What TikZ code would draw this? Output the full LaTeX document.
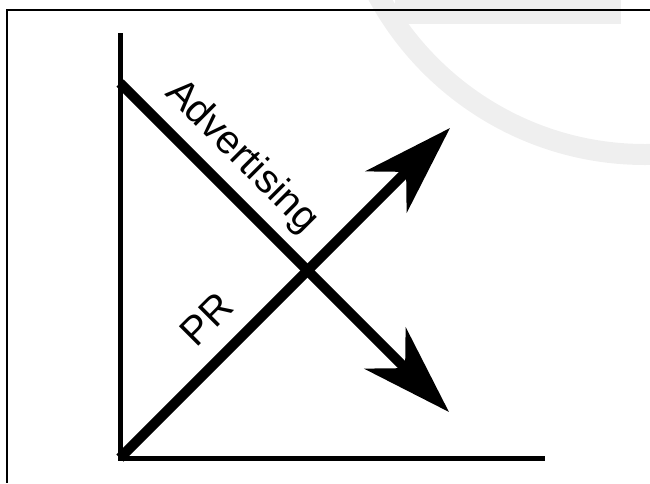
\documentclass[tikz,border=0pt]{standalone}
\usepackage{fontspec}
\setmainfont{Liberation Sans}
\usetikzlibrary{arrows.meta}
\definecolor{ringgray}{HTML}{EFEFEF}
\begin{document}
\begin{tikzpicture}[x=1pt,y=-1pt,
  frame/.style={line width=2.5pt},
  axis/.style={line width=5pt, line join=miter},
  trend/.style={line width=10pt, -{Stealth[length=90pt,width=58pt,inset=28pt]}},
  lbl/.style={font=\fontsize{40}{48}\selectfont, inner sep=0pt}]
\useasboundingbox (0,0) rectangle (650,483);
\begin{scope}
  \clip (0,0) rectangle (650,483);
  \fill[ringgray] (395,0) rectangle (621,24);
  \draw[ringgray, line width=21pt] (645,-149) circle[radius=303.5pt];
\end{scope}
% frame
\coordinate (ftr) at (650,10);
\coordinate (ftl) at (7,10);
\coordinate (fbl) at (7,483);
\draw[frame] (ftr) -- (ftl) -- (fbl);
% axes
\coordinate (ytop) at (120,33);
\coordinate (O) at (120,458);
\coordinate (xend) at (545,458);
\draw[axis] (ytop) -- (O) -- (xend);
% trend lines
\coordinate (adS) at (120,83);
\coordinate (adE) at (449,412);
\coordinate (prS) at (120,458);
\coordinate (prE) at (450,128);
\draw[trend] (adS) -- (adE);
\draw[trend] (prS) -- (prE);
% labels
\node[lbl, anchor=base, rotate=-45] (adv) at (234,164) {Advertising};
\node[lbl, anchor=base, rotate=45] (pr) at (216,329) {PR};
\end{tikzpicture}
\end{document}
